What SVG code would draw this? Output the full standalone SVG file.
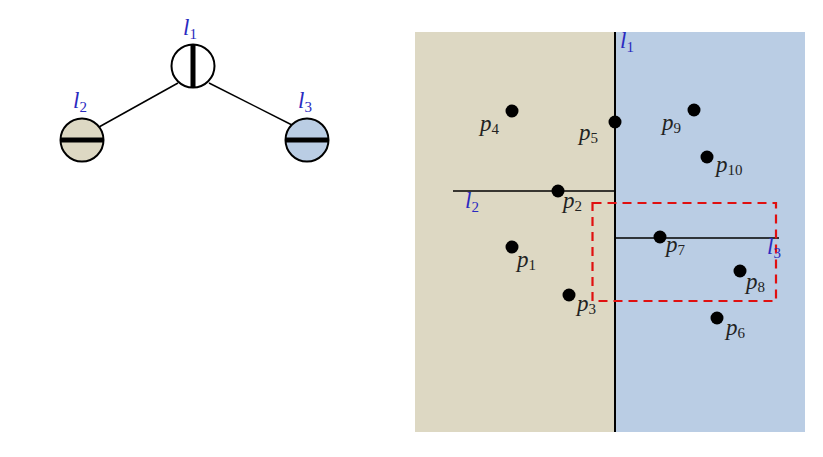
<svg xmlns="http://www.w3.org/2000/svg" width="823" height="457" viewBox="0 0 823 457">
<style>
.lab{font-family:"Liberation Serif",serif;font-style:italic;font-size:23px;fill:#222}
.sub{font-style:normal;font-size:15px}
.blue{fill:#2a2ac0}
.pt{fill:#000}
.edge{stroke:#000;stroke-width:1.5;fill:none}
.node{stroke:#000;stroke-width:2}
.bar{stroke:#000;stroke-width:5}
</style>
<rect width="823" height="457" fill="#fff"/>
<g id="tree-edges">
<line class="edge" x1="178" y1="83" x2="99" y2="127"/>
<line class="edge" x1="209" y1="83" x2="292" y2="125"/>
</g>
<g id="node-l1">
<circle class="node" cx="193" cy="66" r="21.5" fill="#fff"/>
<line class="bar" x1="193" y1="44.5" x2="193" y2="87.5"/>
<text class="lab blue" x="183" y="35">l<tspan class="sub" dy="4">1</tspan></text>
</g>
<g id="node-l2">
<circle class="node" cx="82" cy="140" r="21.5" fill="#ddd8c3"/>
<line class="bar" x1="60.5" y1="140" x2="103.5" y2="140"/>
<text class="lab blue" x="73" y="108">l<tspan class="sub" dy="4">2</tspan></text>
</g>
<g id="node-l3">
<circle class="node" cx="307" cy="140" r="21.5" fill="#bacde4"/>
<line class="bar" x1="285.5" y1="140" x2="328.5" y2="140"/>
<text class="lab blue" x="298" y="108">l<tspan class="sub" dy="4">3</tspan></text>
</g>
<g id="plane">
<rect x="415" y="32" width="200" height="400" fill="#ddd8c3"/>
<rect x="615" y="32" width="190" height="400" fill="#bacde4"/>
</g>
<g id="connectors">
<line x1="615" y1="32" x2="615" y2="432" stroke="#000" stroke-width="2"/>
<line x1="453" y1="191" x2="615" y2="191" stroke="#000" stroke-width="1.5"/>
<line x1="615" y1="238" x2="779" y2="238" stroke="#000" stroke-width="1.5"/>
<rect x="592.5" y="203" width="183.5" height="98" fill="none" stroke="#e01010" stroke-width="2.2" stroke-dasharray="9,6"/>
</g>
<g id="line-labels">
<text class="lab blue" x="620" y="48">l<tspan class="sub" dy="4">1</tspan></text>
<text class="lab blue" x="465" y="208">l<tspan class="sub" dy="4">2</tspan></text>
<text class="lab blue" x="767" y="254">l<tspan class="sub" dy="4">3</tspan></text>
</g>
<g id="points">
<circle class="pt" cx="512" cy="111" r="6.5"/>
<circle class="pt" cx="615" cy="122" r="6.5"/>
<circle class="pt" cx="694" cy="110" r="6.5"/>
<circle class="pt" cx="707" cy="157" r="6.5"/>
<circle class="pt" cx="558" cy="191" r="6.5"/>
<circle class="pt" cx="512" cy="247" r="6.5"/>
<circle class="pt" cx="569" cy="295" r="6.5"/>
<circle class="pt" cx="660" cy="237" r="6.5"/>
<circle class="pt" cx="740" cy="271" r="6.5"/>
<circle class="pt" cx="717" cy="318" r="6.5"/>
</g>
<g id="point-labels">
<text class="lab" x="480" y="131">p<tspan class="sub" dy="3">4</tspan></text>
<text class="lab" x="579" y="140">p<tspan class="sub" dy="3">5</tspan></text>
<text class="lab" x="662" y="130">p<tspan class="sub" dy="3">9</tspan></text>
<text class="lab" x="716" y="172">p<tspan class="sub" dy="3">10</tspan></text>
<text class="lab" x="563" y="208">p<tspan class="sub" dy="3">2</tspan></text>
<text class="lab" x="517" y="267">p<tspan class="sub" dy="3">1</tspan></text>
<text class="lab" x="577" y="311">p<tspan class="sub" dy="3">3</tspan></text>
<text class="lab" x="666" y="252">p<tspan class="sub" dy="3">7</tspan></text>
<text class="lab" x="746" y="289">p<tspan class="sub" dy="3">8</tspan></text>
<text class="lab" x="726" y="335">p<tspan class="sub" dy="3">6</tspan></text>
</g>
</svg>
